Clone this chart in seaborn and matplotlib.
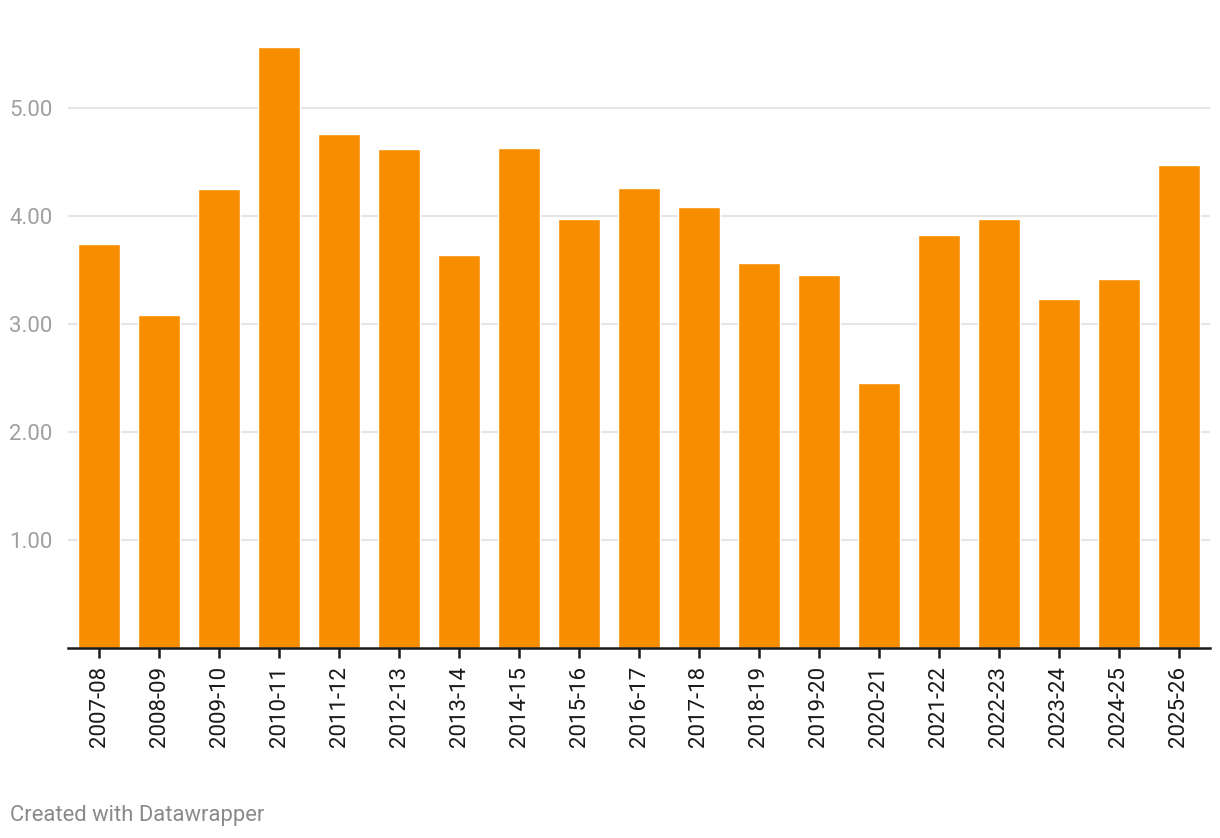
import seaborn as sns
import matplotlib.pyplot as plt
import pandas as pd

# season labels and values
seasons = ['2007-08', '2008-09', '2009-10', '2010-11', '2011-12', '2012-13',
           '2013-14', '2014-15', '2015-16', '2016-17', '2017-18', '2018-19',
           '2019-20', '2020-21', '2021-22', '2022-23', '2023-24', '2024-25',
           '2025-26']
values = [3.74, 3.08, 4.25, 5.56, 4.76, 4.62, 3.64, 4.63, 3.97, 4.26, 4.08,
          3.56, 3.45, 2.45, 3.82, 3.97, 3.23, 3.41, 4.47]
y_ticks = [1, 2, 3, 4, 5]

df = pd.DataFrame({'season': seasons, 'value': values})

sns.set_style('white')
plt.rcParams['font.family'] = ['Roboto', 'DejaVu Sans']

fig = plt.figure(figsize=(12.2, 8.38), dpi=100)
ax = fig.add_axes([68 / 1220, 1 - 647.7 / 838, (1210 - 68) / 1220, (647.7 - 42.9) / 838])

sns.barplot(data=df, x='season', y='value', color='#F98D00', width=0.7,
            saturation=1, ax=ax, zorder=3)

ax.set_xlim(-0.52, 18.52)
ax.set_ylim(0, 5.6)
ax.set_yticks(y_ticks)
ax.set_yticklabels([f'{t:.2f}' for t in y_ticks])
ax.yaxis.grid(True, color='#e5e5e5', linewidth=1.5, zorder=0)
ax.set_axisbelow(True)
ax.set_xlabel('')
ax.set_ylabel('')

for s in ['top', 'right', 'left']:
    ax.spines[s].set_visible(False)
ax.spines['bottom'].set_color('#1a1a1a')
ax.spines['bottom'].set_linewidth(1.8)
ax.spines['bottom'].set_zorder(5)

ax.tick_params(axis='y', length=0, pad=11, labelsize=16, labelcolor='#a0a0a0')
ax.tick_params(axis='x', bottom=True, direction='out', length=7, width=1.8,
               color='#1a1a1a', pad=6, labelsize=16, labelcolor='#1a1a1a',
               rotation=90)

fig.text(10 / 1220, 1 - 815 / 838, 'Created with Datawrapper', fontsize=15.8,
         color='#8a8a8a', ha='left', va='center')

fig.savefig('out.png', dpi=100)
